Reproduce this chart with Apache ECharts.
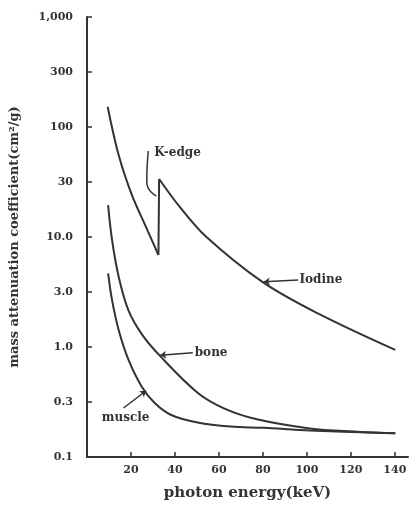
<!DOCTYPE html>
<html>
<head>
<meta charset="utf-8">
<script src="https://cdn.jsdelivr.net/npm/echarts@6/dist/echarts.min.js"></script>
<style>html,body{margin:0;padding:0;background:#fff;}#c{width:410px;height:511px;}</style>
</head>
<body>
<div id="c"></div>
<script>
// ---- data (photon energy keV, mass attenuation coefficient cm^2/g) ----
const iodinePreE  = [9.4, 14.4, 20.4, 26.4, 32.5];
const iodinePreV  = [153, 55.6, 24.1, 12.9, 6.86];
const iodineEdgeE = [32.5, 32.8];
const iodineEdgeV = [6.86, 33.7];
const iodinePostE = [32.8, 42.1, 54.1, 79.6, 105, 140.2];
const iodinePostV = [33.7, 18.9, 10.1, 3.93, 2.02, 0.94];
const boneE   = [9.6, 11.4, 14.4, 18.9, 24.9, 33.1, 50.3, 62.3, 77.3, 101.3, 123, 140.2];
const boneV   = [19.5, 9.39, 4.36, 2.14, 1.31, 0.834, 0.384, 0.277, 0.220, 0.182, 0.170, 0.164];
const muscleE = [9.6, 11.4, 14.4, 18.9, 24.9, 30.9, 38.3, 50.3, 65.3, 80.3, 101.3, 140.2];
const muscleV = [4.68, 2.67, 1.43, 0.762, 0.436, 0.308, 0.241, 0.206, 0.189, 0.184, 0.174, 0.164];

const xTickLabels = [20, 40, 60, 80, 100, 120, 140];
const yTickLabels = ['0.1', '0.3', '1.0', '3.0', '10.0', '30', '100', '300', '1,000'];

// annotation anchors (data space)
const labelIodine = { text: 'Iodine', at: [96.6, 4.06], from: [96.0, 4.06], to: [80.4, 3.92] };
const labelBone   = { text: 'bone',   at: [49.0, 0.884], from: [48.1, 0.887], to: [33.3, 0.84] };
const labelMuscle = { text: 'muscle', at: [6.7, 0.226], from: [16.6, 0.279], to: [26.9, 0.40] };
const labelKedge  = { text: 'K-edge', at: [30.6, 58.1] };
const kedgeLeaderE = [27.9, 27.2, 31.5];
const kedgeLeaderV = [60.5, 31.6, 23.6];

const zip = (a, b) => a.map((v, i) => [v, b[i]]);
const FONT = 'DejaVu Serif';
const INK = '#333';
const lineStyle = { color: INK, width: 2 };

function textPoint(l) {
  return {
    coord: l.at, symbol: 'circle', symbolSize: 0,
    label: { show: true, position: 'inside', formatter: l.text, align: 'left', verticalAlign: 'middle',
             color: INK, fontFamily: FONT, fontWeight: 'bold', fontSize: 12 }
  };
}
function leader(l) {
  return [
    { coord: l.from, symbol: 'none' },
    { coord: l.to, symbol: 'arrow', symbolSize: 6 }
  ];
}
const smoothOpts = { smooth: 0.35, showSymbol: false, lineStyle };

const chart = echarts.init(document.getElementById('c'), null, { renderer: 'canvas' });
chart.setOption({
  animation: false,
  backgroundColor: '#fff',
  grid: { left: 83, right: 2, top: 17, bottom: 54, containLabel: false },
  xAxis: {
    type: 'value', min: 0, max: 146, interval: 20,
    name: 'photon energy(keV)', nameLocation: 'middle', nameGap: 29,
    nameTextStyle: { color: INK, fontFamily: FONT, fontWeight: 'bold', fontSize: 15 },
    axisLine: { show: true, lineStyle: { color: INK, width: 2 } },
    axisTick: { show: true, inside: true, length: 5, lineStyle: { color: INK, width: 1.5 },
                customValues: xTickLabels },
    axisLabel: { color: INK, fontFamily: FONT, fontWeight: 'bold', fontSize: 11, margin: 8,
                 customValues: xTickLabels, formatter: v => String(v) },
    splitLine: { show: false }
  },
  yAxis: {
    type: 'log', logBase: Math.sqrt(10), min: 0.1, max: 1000, splitNumber: 8,
    name: 'mass attenuation coefficient(cm\u00B2/g)', nameLocation: 'middle', nameGap: 66,
    nameTextStyle: { color: INK, fontFamily: FONT, fontWeight: 'bold', fontSize: 13 },
    axisLine: { show: true, lineStyle: { color: INK, width: 2 } },
    axisTick: { show: true, inside: true, length: 5, lineStyle: { color: INK, width: 1.5 } },
    axisLabel: {
      color: INK, fontFamily: FONT, fontWeight: 'bold', fontSize: 11, margin: 14,
      formatter: v => { const i = Math.round(Math.log10(v) * 2) + 2; return yTickLabels[i] || ''; }
    },
    splitLine: { show: false }
  },
  series: [
    Object.assign({ type: 'line', name: 'Iodine', data: zip(iodinePreE, iodinePreV),
      markPoint: { data: [textPoint(labelKedge)] } }, smoothOpts),
    { type: 'line', name: 'Iodine', data: zip(iodineEdgeE, iodineEdgeV), showSymbol: false, lineStyle },
    Object.assign({ type: 'line', name: 'Iodine', data: zip(iodinePostE, iodinePostV),
      markPoint: { data: [textPoint(labelIodine)] },
      markLine: { silent: true, lineStyle: { color: INK, width: 1.5, type: 'solid' },
                  label: { show: false }, data: [leader(labelIodine)] } }, smoothOpts),
    Object.assign({ type: 'line', name: 'bone', data: zip(boneE, boneV),
      markPoint: { data: [textPoint(labelBone)] },
      markLine: { silent: true, lineStyle: { color: INK, width: 1.5, type: 'solid' },
                  label: { show: false }, data: [leader(labelBone)] } }, smoothOpts),
    Object.assign({ type: 'line', name: 'muscle', data: zip(muscleE, muscleV),
      markPoint: { data: [textPoint(labelMuscle)] },
      markLine: { silent: true, lineStyle: { color: INK, width: 1.5, type: 'solid' },
                  label: { show: false }, data: [leader(labelMuscle)] } }, smoothOpts),
    { type: 'line', name: 'K-edge leader', data: zip(kedgeLeaderE, kedgeLeaderV), smooth: 0.6,
      showSymbol: false, silent: true, lineStyle: { color: INK, width: 1.5 } }
  ]
});
</script>
</body>
</html>
